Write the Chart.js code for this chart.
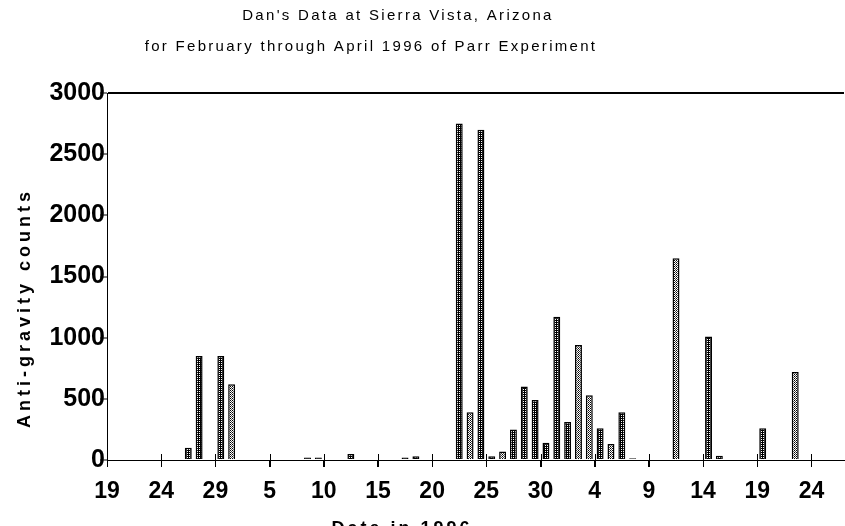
<!DOCTYPE html>
<html>
<head>
<meta charset="utf-8">
<script src="https://cdn.jsdelivr.net/npm/chart.js@4/dist/chart.umd.min.js"></script>
<style>
  html, body { margin: 0; background: #fff; }
  #wrap { width: 845px; height: 526px; }
</style>
</head>
<body>
<div id="wrap"><canvas id="chart"></canvas></div>
<script>
// Data (1996, Feb 19 .. Apr 26)
const firstDay = [1996, 1, 19];
const dayCount = 68;

const dotDates  = ['02-26','02-27','02-29','03-08','03-09','03-12','03-17','03-18','03-22','03-24','03-25',
                   '03-27','03-28','03-29','03-30','03-31','04-01','04-04','04-06','04-07','04-14','04-15','04-19'];
const dotCounts = [100, 850, 850, 20, 20, 50, 20, 30, 2750, 2700, 30,
                   250, 600, 490, 140, 1170, 310, 260, 390, 15, 1010, 35, 260];

const hatchDates  = ['03-01','03-23','03-26','04-02','04-03','04-05','04-11','04-22'];
const hatchCounts = [620, 390, 70, 940, 530, 130, 1650, 720];

const xTickLabels = ['19','24','29','5','10','15','20','25','30','4','9','14','19','24'];
const yMax = 3000, yStep = 500;

const titleText = "Dan's Data at Sierra Vista, Arizona";
const subtitleText = 'for February through April 1996 of Parr Experiment';
const yTitle = 'Anti-gravity counts';
const xTitle = 'Date in 1996';

// one category per day
const dayLabels = [];
for (let i = 0; i < dayCount; i++) {
    const d = new Date(firstDay[0], firstDay[1], firstDay[2] + i);
    dayLabels.push(String(d.getMonth() + 1).padStart(2, '0') + '-' + String(d.getDate()).padStart(2, '0'));
}

function makePattern(cells) {
    const c = document.createElement('canvas');
    c.width = cells[0].length; c.height = cells.length;
    const g = c.getContext('2d');
    cells.forEach((row, y) => row.forEach((col, x) => { g.fillStyle = col; g.fillRect(x, y, 1, 1); }));
    return g.createPattern(c, 'repeat');
}
const K = '#000', W = '#fff', G = '#444';
const dotFill = makePattern([[K, K], [K, W]]);
const hatchFill = makePattern([[K, W], [W, G]]);

const FONT = '"Liberation Sans", Arial, sans-serif';

const decor = {
    id: 'decor',
    afterDraw(chart) {
        const ctx = chart.ctx;
        const xs = chart.scales.xl;
        const area = chart.chartArea;
        ctx.save();
        // x tick marks crossing the axis
        ctx.strokeStyle = '#000';
        ctx.lineWidth = 1;
        xs.ticks.forEach(t => {
            const px = Math.round(xs.getPixelForValue(t.value)) + 0.5;
            ctx.beginPath();
            ctx.moveTo(px, area.bottom - 6);
            ctx.lineTo(px, area.bottom + 7);
            ctx.stroke();
        });
        // titles
        ctx.fillStyle = '#000';
        ctx.textAlign = 'center';
        ctx.textBaseline = 'middle';
        ctx.font = '15px ' + FONT;
        ctx.letterSpacing = '2.3px';
        ctx.fillText(titleText, 398, 16);
        ctx.fillText(subtitleText, 371, 47);
        // y axis title
        ctx.font = 'bold 18px ' + FONT;
        ctx.letterSpacing = '4px';
        ctx.save();
        ctx.translate(25, 308);
        ctx.rotate(-Math.PI / 2);
        ctx.fillText(yTitle, 0, 0);
        ctx.restore();
        // x axis title (cut by the bottom edge)
        ctx.letterSpacing = '3px';
        ctx.fillText(xTitle, 402, 529);
        ctx.restore();
    }
};

new Chart(document.getElementById('chart'), {
    type: 'bar',
    data: {
        labels: dayLabels,
        datasets: [
            {
                label: 'dots',
                data: dotDates.map((d, i) => ({ x: d, y: dotCounts[i] })),
                backgroundColor: dotFill,
                borderColor: '#000',
                borderWidth: 1.5,
                grouped: false,
                categoryPercentage: 1,
                barPercentage: 0.64
            },
            {
                label: 'hatch',
                data: hatchDates.map((d, i) => ({ x: d, y: hatchCounts[i] })),
                backgroundColor: hatchFill,
                borderColor: '#000',
                borderWidth: 1.5,
                grouped: false,
                categoryPercentage: 1,
                barPercentage: 0.64
            }
        ]
    },
    options: {
        responsive: true,
        maintainAspectRatio: false,
        animation: false,
        devicePixelRatio: 1,
        layout: { padding: { top: 93, right: 1, left: 0, bottom: 0 } },
        plugins: {
            legend: { display: false },
            tooltip: { enabled: false }
        },
        scales: {
            x: { type: 'category', display: false, offset: true },
            xl: {
                type: 'linear',
                position: 'bottom',
                min: 0,
                max: dayCount,
                offset: false,
                afterFit(s) { s.height = 66; },
                ticks: {
                    stepSize: 5,
                    includeBounds: false,
                    autoSkip: false,
                    maxRotation: 0,
                    padding: 11,
                    color: '#000',
                    font: { family: FONT, size: 23, weight: 'bold' },
                    callback: (v) => xTickLabels[Math.round(v / 5)]
                },
                grid: { offset: false, drawOnChartArea: false, tickLength: 7, tickColor: '#000' },
                border: { color: '#000', width: 1 }
            },
            y: {
                min: 0,
                max: yMax,
                afterFit(s) { s.width = 107; },
                ticks: {
                    stepSize: yStep,
                    padding: -5,
                    color: '#000',
                    font: { family: FONT, size: 25, weight: 'bold' },
                    callback: (v) => String(v)
                },
                grid: {
                    color: c => (c.tick && c.tick.value === yMax) ? '#000' : 'rgba(0,0,0,0)',
                    lineWidth: 2,
                    tickColor: '#000',
                    tickWidth: 1,
                    tickLength: 7
                },
                border: { color: '#000', width: 1 }
            }
        }
    },
    plugins: [decor]
});
</script>
</body>
</html>
